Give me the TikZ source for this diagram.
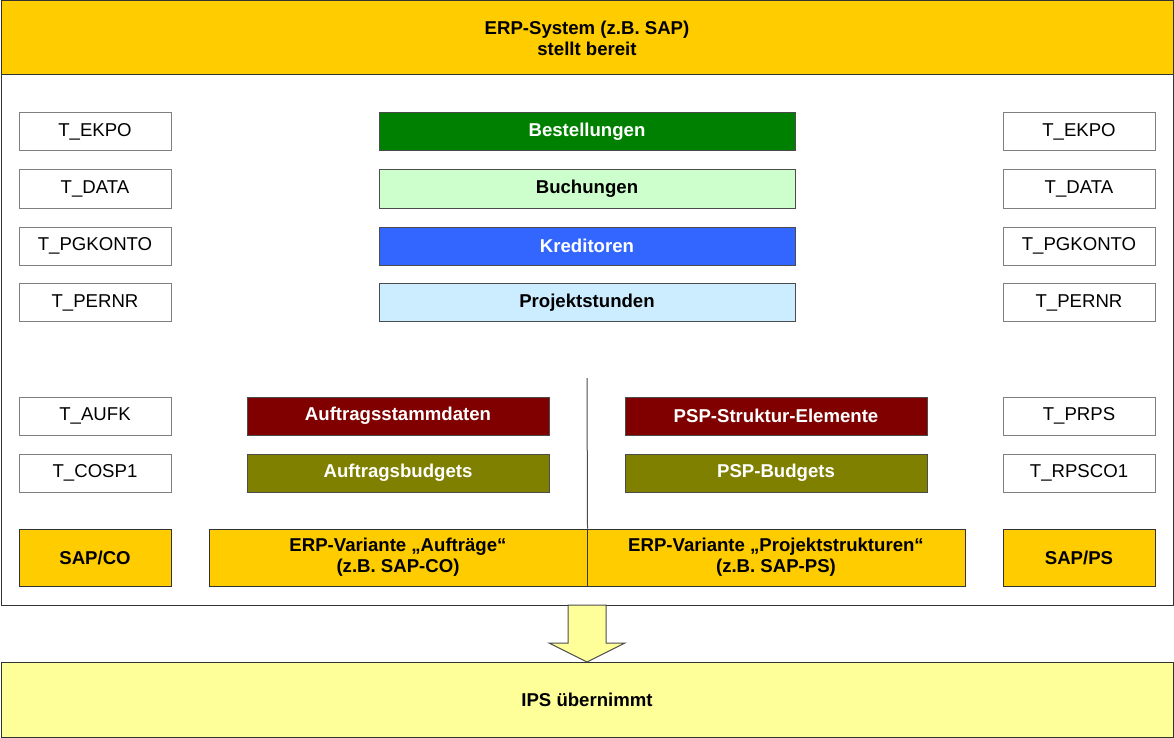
\documentclass[tikz,border=0pt]{standalone}
\usepackage{fontspec}
\setmainfont{Liberation Sans}
\definecolor{gold}{HTML}{FFCC00}
\definecolor{lyellow}{HTML}{FFFF99}
\definecolor{dgreen}{HTML}{008000}
\definecolor{lgreen}{HTML}{CCFFCC}
\definecolor{kblue}{HTML}{3366FF}
\definecolor{lcyan}{HTML}{CCECFF}
\definecolor{dred}{HTML}{800000}
\definecolor{olive}{HTML}{808000}
\definecolor{bordergray}{HTML}{7F7F7F}
\begin{document}
\begin{tikzpicture}[x=1pt,y=-1pt,
  txt/.style={font=\fontsize{18.6}{21}\selectfont},
  btxt/.style={font=\bfseries\fontsize{18.6}{21}\selectfont},
  tbox/.style={txt, draw=bordergray, line width=1pt, fill=white, minimum width=152, minimum height=38, inner sep=0},
  cbox/.style={btxt, draw=black!70, line width=1pt, minimum width=416, minimum height=38, inner sep=0},
  mbox/.style={btxt, draw=black!70, line width=1pt, minimum width=302, minimum height=38, inner sep=0, text=white},
  goldbox/.style={btxt, draw=black!80, line width=1pt, fill=gold, minimum height=57, inner sep=0, align=center},
]
\useasboundingbox (0,0) rectangle (1174,738);
% main frame
\node[draw=black!80, line width=1pt, fill=white, minimum width=1172, minimum height=530, inner sep=0] (main) at (587,340) {};
% top bar
\node[btxt, draw=black!80, line width=1pt, fill=gold, minimum width=1172, minimum height=74, inner sep=0, align=center] (top) at (587,38) {ERP-System (z.B. SAP)\\stellt bereit};
% left column
\node[tbox] (l1) at (95,132) {T\_EKPO};
\node[tbox] (l2) at (95,189) {T\_DATA};
\node[tbox] (l3) at (95,246) {T\_PGKONTO};
\node[tbox] (l4) at (95,302.5) {T\_PERNR};
\node[tbox] (l5) at (95,416) {T\_AUFK};
\node[tbox] (l6) at (95,473) {T\_COSP1};
\node[goldbox, minimum width=152] (sapco) at (95,557.5) {SAP/CO};
% right column
\node[tbox] (r1) at (1079,132) {T\_EKPO};
\node[tbox] (r2) at (1079,189) {T\_DATA};
\node[tbox] (r3) at (1079,246) {T\_PGKONTO};
\node[tbox] (r4) at (1079,302.5) {T\_PERNR};
\node[tbox] (r5) at (1079,416) {T\_PRPS};
\node[tbox] (r6) at (1079,473) {T\_RPSCO1};
\node[goldbox, minimum width=152] (sapps) at (1079,557.5) {SAP/PS};
% center boxes
\node[cbox, fill=dgreen, text=white] (best) at (587,132) {Bestellungen};
\node[cbox, fill=lgreen] (buch) at (587,189) {Buchungen};
\node[cbox, fill=kblue, text=white] (kred) at (587,246) {Kreditoren};
\node[cbox, fill=lcyan] (proj) at (587,302.5) {Projektstunden};
% middle boxes
\node[mbox, fill=dred] (astd) at (398,416) {Auftragsstammdaten};
\node[mbox, fill=olive] (abud) at (398,473) {Auftragsbudgets};
\node[mbox, fill=dred] (psps) at (776,416) {PSP-Struktur-Elemente};
\node[mbox, fill=olive] (pspb) at (776,473) {PSP-Budgets};
% ERP variants
\node[goldbox, minimum width=378] (erpa) at (398,557.5) {ERP-Variante „Aufträge“\\(z.B. SAP-CO)};
\node[goldbox, minimum width=378] (erpp) at (776,557.5) {ERP-Variante „Projektstrukturen“\\(z.B. SAP-PS)};
% divider
\coordinate (divtop) at (587,378);
\draw[black!70, line width=1pt] (divtop) -- (erpa.north east);
% bottom box
\node[btxt, draw=black!80, line width=1pt, fill=lyellow, minimum width=1172, minimum height=75, inner sep=0] (ips) at (587,699.5) {IPS übernimmt};
% block arrow
\draw[black!70, line width=1pt, fill=lyellow, line join=miter]
  (568,605) -- (606,605) -- (606,643) -- (625,643) -- (587,662) -- (549,643) -- (568,643) -- cycle;
\end{tikzpicture}
\end{document}
